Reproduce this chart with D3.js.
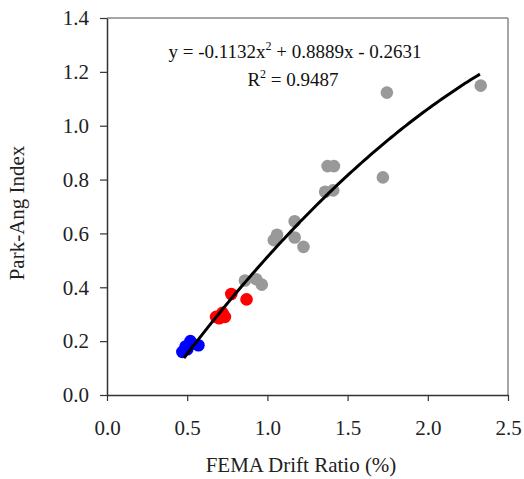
<!DOCTYPE html>
<html><head><meta charset="utf-8">
<script src="https://cdn.jsdelivr.net/npm/d3@7"></script>
<style>body{margin:0;background:#fff}svg{display:block}</style>
</head><body>
<svg id="c" width="524" height="479"></svg>
<script>
const grayX = [0.86,0.93,0.965,1.04,1.06,1.17,1.17,1.225,1.36,1.41,1.375,1.415,1.72,1.745,2.33];
const grayY = [0.425,0.43,0.41,0.575,0.595,0.645,0.585,0.55,0.755,0.76,0.85,0.85,0.808,1.123,1.149];
const redX = [0.775,0.87,0.68,0.72,0.735,0.70];
const redY = [0.375,0.355,0.29,0.305,0.29,0.285];
const blueX = [0.47,0.49,0.52,0.53,0.57,0.50];
const blueY = [0.16,0.18,0.20,0.19,0.185,0.17];
const coef = [-0.1132, 0.8889, -0.2631];
const fitRange = [0.48, 2.325];
const xTicks = [0,0.5,1.0,1.5,2.0,2.5];
const yTicks = [0,0.2,0.4,0.6,0.8,1.0,1.2,1.4];

const svg = d3.select("#c");
const L=107,R=508,T=18,B=395;
const x = d3.scaleLinear().domain([0,2.5]).range([L,R]);
const y = d3.scaleLinear().domain([0,1.4]).range([B,T]);
const font = "'Liberation Serif','Times New Roman',serif";

// frame top/right
svg.append("line").attr("x1",L).attr("x2",R).attr("y1",T).attr("y2",T).attr("stroke","#888").attr("stroke-width",1.5);
svg.append("line").attr("x1",R).attr("x2",R).attr("y1",T).attr("y2",B).attr("stroke","#888").attr("stroke-width",1.5);

const xa = svg.append("g").attr("transform",`translate(0,${B})`)
  .call(d3.axisBottom(x).tickValues(xTicks).tickFormat(d3.format(".1f")).tickSize(6).tickPadding(19).tickSizeOuter(0));
const ya = svg.append("g").attr("transform",`translate(${L},0)`)
  .call(d3.axisLeft(y).tickValues(yTicks).tickFormat(d3.format(".1f")).tickSize(7).tickPadding(11).tickSizeOuter(0));
[xa,ya].forEach(g=>{
  g.select(".domain").attr("stroke","#333").attr("stroke-width",1.5);
  g.selectAll(".tick line").attr("stroke","#333").attr("stroke-width",1.2);
  g.selectAll("text").attr("font-family",font).attr("font-size",21).attr("fill","#222");
});

function pts(xs,ys,col){
  svg.append("g").selectAll("circle").data(xs.map((v,i)=>[v,ys[i]])).join("circle")
    .attr("cx",d=>x(d[0])).attr("cy",d=>y(d[1])).attr("r",6.3).attr("fill",col);
}
pts(grayX,grayY,"#999999");
pts(redX,redY,"#ff0000");
pts(blueX,blueY,"#0000ff");

const f = v=>coef[0]*v*v+coef[1]*v+coef[2];
const xs = d3.range(0,101).map(i=>fitRange[0]+(fitRange[1]-fitRange[0])*i/100);
svg.append("path").attr("d",d3.line().x(d=>x(d)).y(d=>y(f(d)))(xs))
  .attr("fill","none").attr("stroke","#000").attr("stroke-width",3);

const eq = svg.append("text").attr("x",295).attr("y",58).attr("text-anchor","middle")
  .attr("font-family",font).attr("font-size",19).attr("fill","#111");
eq.append("tspan").text("y = -0.1132x");
eq.append("tspan").attr("font-size",12).attr("dy",-8).text("2");
eq.append("tspan").attr("dy",8).text(" + 0.8889x - 0.2631");
const r2 = svg.append("text").attr("x",293).attr("y",86).attr("text-anchor","middle")
  .attr("font-family",font).attr("font-size",19).attr("fill","#111");
r2.append("tspan").text("R");
r2.append("tspan").attr("font-size",12).attr("dy",-8).text("2");
r2.append("tspan").attr("dy",8).text(" = 0.9487");

svg.append("text").attr("x",301).attr("y",472).attr("text-anchor","middle")
  .attr("font-family",font).attr("font-size",21).attr("fill","#222").text("FEMA Drift Ratio (%)");
svg.append("text").attr("transform","translate(24,213) rotate(-90)").attr("text-anchor","middle")
  .attr("font-family",font).attr("font-size",21).attr("fill","#222").text("Park-Ang Index");
</script>
</body></html>
